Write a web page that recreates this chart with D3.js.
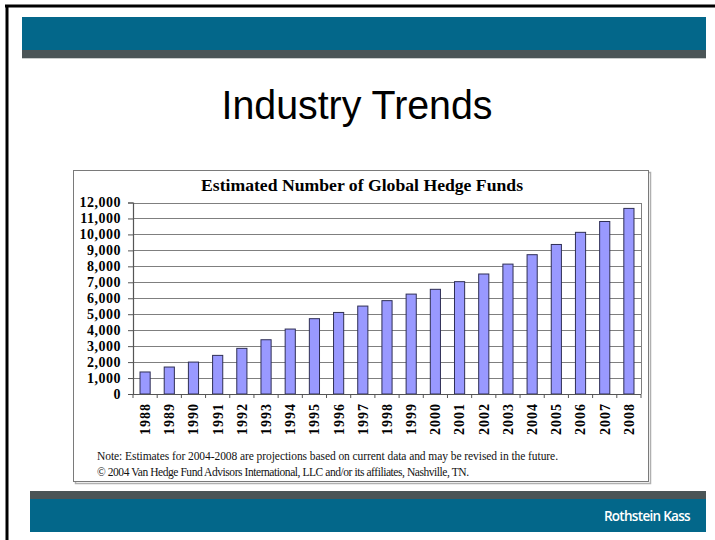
<!DOCTYPE html>
<html>
<head>
<meta charset="utf-8">
<script src="https://cdn.jsdelivr.net/npm/d3@7"></script>
<style>
  html, body { margin: 0; padding: 0; background: #ffffff; }
  svg { display: block; }
</style>
</head>
<body>
<svg id="chart" width="715" height="540"></svg>
<script>
// ---- data ----
const years = ["1988","1989","1990","1991","1992","1993","1994","1995","1996","1997",
               "1998","1999","2000","2001","2002","2003","2004","2005","2006","2007","2008"];
const funds = [1380, 1690, 2000, 2420, 2860, 3400, 4070, 4720, 5110, 5510,
               5850, 6260, 6560, 7040, 7520, 8140, 8730, 9370, 10130, 10810, 11630];
const yTicks = [0,1000,2000,3000,4000,5000,6000,7000,8000,9000,10000,11000,12000];
const slideTitle = "Industry Trends";
const chartTitle = "Estimated Number of Global Hedge Funds";
const noteLines = [
  "Note: Estimates for 2004-2008 are projections based on current data and may be revised in the future.",
  "\u00A9 2004 Van Hedge Fund Advisors International, LLC and/or its affiliates, Nashville, TN."
];
const brand = "Rothstein Kass";

(function () {
const svg = d3.select("#chart");
const teal = "#03678a", slate = "#4b5557";

// slide frame
svg.append("rect").attr("x",0).attr("y",0).attr("width",715).attr("height",540).attr("fill","#ffffff");
svg.append("line").attr("x1",5).attr("x2",715).attr("y1",6).attr("y2",6).attr("stroke","#000").attr("stroke-width",3);
svg.append("line").attr("x1",7).attr("x2",7).attr("y1",5).attr("y2",540).attr("stroke","#000").attr("stroke-width",3);

// top bands
svg.append("rect").attr("x",22).attr("y",17).attr("width",684).attr("height",33).attr("fill",teal);
svg.append("rect").attr("x",22).attr("y",50).attr("width",684).attr("height",8).attr("fill",slate);
svg.append("rect").attr("x",22).attr("y",58).attr("width",684).attr("height",1).attr("fill","#c8cccc");

// bottom bands
svg.append("rect").attr("x",30).attr("y",491).attr("width",676).attr("height",8).attr("fill",slate);
svg.append("rect").attr("x",30).attr("y",499).attr("width",676).attr("height",33).attr("fill",teal);
svg.append("text").attr("x",690).attr("y",521).attr("text-anchor","end")
  .attr("font-family","'Open Sans', 'Liberation Sans', sans-serif").attr("font-size",13.5)
  .attr("font-weight",600).attr("letter-spacing",-0.7).attr("fill","#ffffff").text(brand);

// slide title
svg.append("text").attr("x",357).attr("y",119).attr("text-anchor","middle")
  .attr("font-family","'Liberation Sans', Arial, sans-serif").attr("font-size",40)
  .attr("textLength",271).attr("lengthAdjust","spacingAndGlyphs")
  .attr("fill","#000").text(slideTitle);

// chart box
svg.append("rect").attr("x",75.5).attr("y",172.5).attr("width",575).attr("height",311)
  .attr("fill","none").attr("stroke","#b0b0b0").attr("stroke-width",1.5);
svg.append("rect").attr("x",73.5).attr("y",170.5).attr("width",575).attr("height",311)
  .attr("fill","#ffffff").attr("stroke","#7a7a7a").attr("stroke-width",1);

// scales
const pL = 133, pR = 641, pT = 202.5, pB = 394;
const x = d3.scaleBand().domain(years).range([pL, pR]).paddingInner(0.58).paddingOuter(0.29);
const y = d3.scaleLinear().domain([0, 12000]).range([pB, pT]);

// gridlines
const g = svg.append("g");
g.selectAll("line.grid").data(yTicks.filter(d => d > 0)).join("line")
  .attr("x1", pL).attr("x2", pR)
  .attr("y1", d => Math.round(y(d)) + 0.5).attr("y2", d => Math.round(y(d)) + 0.5)
  .attr("stroke", "#7f7f7f").attr("stroke-width", 1);
g.append("line").attr("x1", pR + 0.5).attr("x2", pR + 0.5).attr("y1", Math.round(y(12000))).attr("y2", pB)
  .attr("stroke", "#7f7f7f").attr("stroke-width", 1);

// bars
g.selectAll("rect.bar").data(years).join("rect")
  .attr("x", d => x(d)).attr("width", x.bandwidth())
  .attr("y", (d, i) => y(funds[i])).attr("height", (d, i) => pB - y(funds[i]))
  .attr("fill", "#9999ff").attr("stroke", "#2f2f55").attr("stroke-width", 1);

// y axis
const yAxis = d3.axisLeft(y).tickValues(yTicks).tickFormat(d3.format(",")).tickSize(5).tickPadding(7);
const ya = svg.append("g").attr("transform", `translate(${pL},0)`).call(yAxis);
ya.select(".domain").attr("stroke", "#555").attr("stroke-width", 1.2);
ya.selectAll(".tick line").attr("stroke", "#555");
ya.selectAll("text").attr("font-family", "'Liberation Serif', 'Times New Roman', serif")
  .attr("font-size", 14).attr("font-weight", "bold").attr("letter-spacing", 0.5).attr("fill", "#000");

// x axis line and ticks at category boundaries
const step = x.step();
const bounds = years.map(d => x(d) - (step - x.bandwidth()) / 2).concat([pR]);
svg.append("line").attr("x1", pL).attr("x2", pR).attr("y1", pB + 0.5).attr("y2", pB + 0.5)
  .attr("stroke", "#555").attr("stroke-width", 1.2);
svg.selectAll("line.xt").data(bounds).join("line")
  .attr("x1", d => d).attr("x2", d => d).attr("y1", pB).attr("y2", pB + 4)
  .attr("stroke", "#555").attr("stroke-width", 1);

// x labels
svg.selectAll("text.xl").data(years).join("text")
  .attr("transform", d => `translate(${x(d) + x.bandwidth() / 2},${pB + 9}) rotate(-90)`)
  .attr("text-anchor", "end").attr("dy", "0.35em")
  .attr("font-family", "'Liberation Serif', 'Times New Roman', serif")
  .attr("font-size", 14).attr("font-weight", "bold").attr("letter-spacing", 1)
  .attr("fill", "#000").text(d => d);

// chart title
svg.append("text").attr("x", 362).attr("y", 191).attr("text-anchor", "middle")
  .attr("font-family", "'Liberation Serif', 'Times New Roman', serif")
  .attr("font-size", 16.5).attr("font-weight", "bold").attr("fill", "#000")
  .attr("textLength", 322).attr("lengthAdjust", "spacingAndGlyphs").text(chartTitle);

// notes
svg.selectAll("text.note").data(noteLines).join("text")
  .attr("x", 97).attr("y", (d, i) => 460 + i * 16)
  .attr("font-family", "'Liberation Serif', 'Times New Roman', serif")
  .attr("font-size", 11.5).attr("fill", "#111")
  .attr("textLength", (d, i) => i === 0 ? 461 : 372).attr("lengthAdjust", "spacing")
  .text(d => d);
})();
</script>
</body>
</html>
